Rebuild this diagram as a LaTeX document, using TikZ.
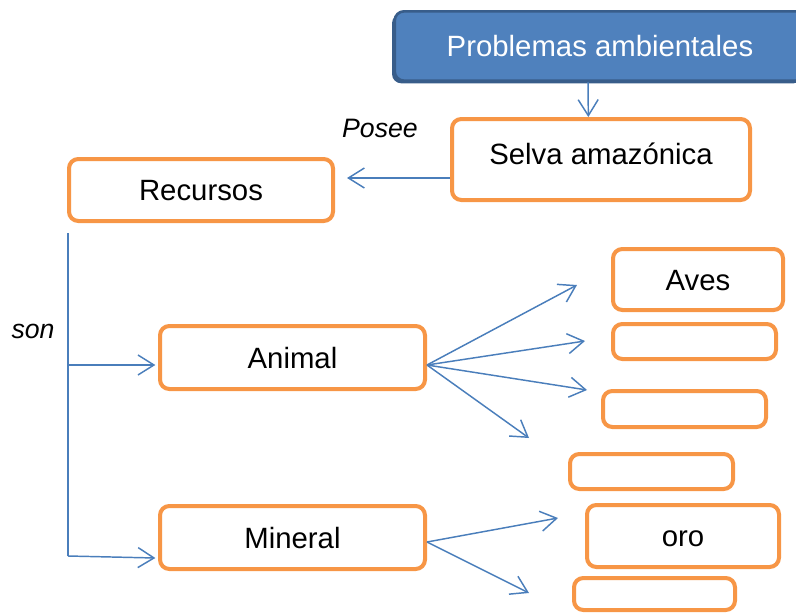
\documentclass[tikz,border=0pt]{standalone}
\usepackage{fontspec}
\setmainfont{Liberation Sans}
\usepackage{xcolor}
\usepackage{tikz}
\usetikzlibrary{arrows.meta,shadows}
\definecolor{orange}{HTML}{F79646}
\definecolor{link}{HTML}{4A7EBB}
\definecolor{title}{HTML}{4F81BD}
\definecolor{titleline}{HTML}{385D8A}
\tikzset{
  box/.style={draw=orange, line width=3pt, rounded corners=7pt, fill=white, inner sep=0pt,
    text height=16pt, text depth=0pt, font=\fontsize{22}{26}\selectfont},
  titlebox/.style={draw=titleline, fill=title, line width=2pt, rounded corners=7pt, inner sep=0pt, text=white,
    font=\fontsize{22}{26}\selectfont, drop shadow={shadow xshift=-2pt, shadow yshift=-2pt, fill=titleline, opacity=1}},
  conn/.style={draw=link, line width=1.1pt},
  arr/.style={conn, -{Straight Barb[length=12pt,width=15pt]}},
  lab/.style={font=\fontsize{20}{24}\selectfont\itshape},
}
\begin{document}
\begin{tikzpicture}[x=0.75pt, y=-0.75pt]
  \useasboundingbox (0,0) rectangle (796,614);

  \node[titlebox, minimum width=308pt, minimum height=52pt] (prob) at (600,46) {Problemas ambientales};
  \node[box, minimum width=223.5pt, minimum height=60.75pt, text depth=9pt] (selva) at (601,159.5) {Selva amazónica};
  \node[box, minimum width=198pt, minimum height=46.5pt] (recursos) at (201,190) {Recursos};
  \node[box, minimum width=198.75pt, minimum height=47.25pt] (animal) at (292.5,357.5) {Animal};
  \node[box, minimum width=198.75pt, minimum height=47.25pt] (mineral) at (292.5,537.5) {Mineral};

  % hojas de Animal
  \node[box, minimum width=127.5pt, minimum height=45.75pt] (aves) at (698,279.5) {Aves};
  \node[box, minimum width=122.25pt, minimum height=26.25pt] (animB) at (694.5,341.5) {};
  \node[box, minimum width=122.25pt, minimum height=27pt] (animC) at (684.5,409) {};
  \node[box, minimum width=122.25pt, minimum height=26.25pt] (animD) at (651.5,471.5) {};
  % hojas de Mineral
  \node[box, minimum width=144pt, minimum height=46.5pt] (oro) at (683,536) {oro};
  \node[box, minimum width=120.75pt, minimum height=24pt] (minB) at (654.5,594) {};

  \node[lab] (posee) at (380,128) {Posee};
  \node[lab] (son) at (33,331) {son};

  \coordinate (recIn) at (347,178);
  \coordinate (sonTop) at (68,233);
  \coordinate (sonA) at (68,365);
  \coordinate (sonB) at (68,556);
  \coordinate (animOut) at (427,365);
  \coordinate (minOut) at (427,542);
  \coordinate (a1) at (577,285);
  \coordinate (a2) at (585,341);
  \coordinate (a3) at (587,390);
  \coordinate (a4) at (529,438);
  \coordinate (m1) at (558,518);
  \coordinate (m2) at (529,593);

  \draw[arr] ([xshift=-9pt]prob.south) -- ([xshift=-9.5pt]selva.north);
  \draw[arr] (selva.west |- recIn) -- (recIn);
  \draw[conn] (sonTop) -- (sonB);
  \draw[arr] (sonA) -- ([xshift=-2pt]sonA -| animal.west);
  \draw[arr] (sonB) -- ([xshift=-2pt,yshift=-1.5pt]sonB -| mineral.west);

  \foreach \t in {a1,a2,a3,a4}
    \draw[arr] (animOut) -- (\t);
  \foreach \t in {m1,m2}
    \draw[arr] (minOut) -- (\t);
\end{tikzpicture}
\end{document}
